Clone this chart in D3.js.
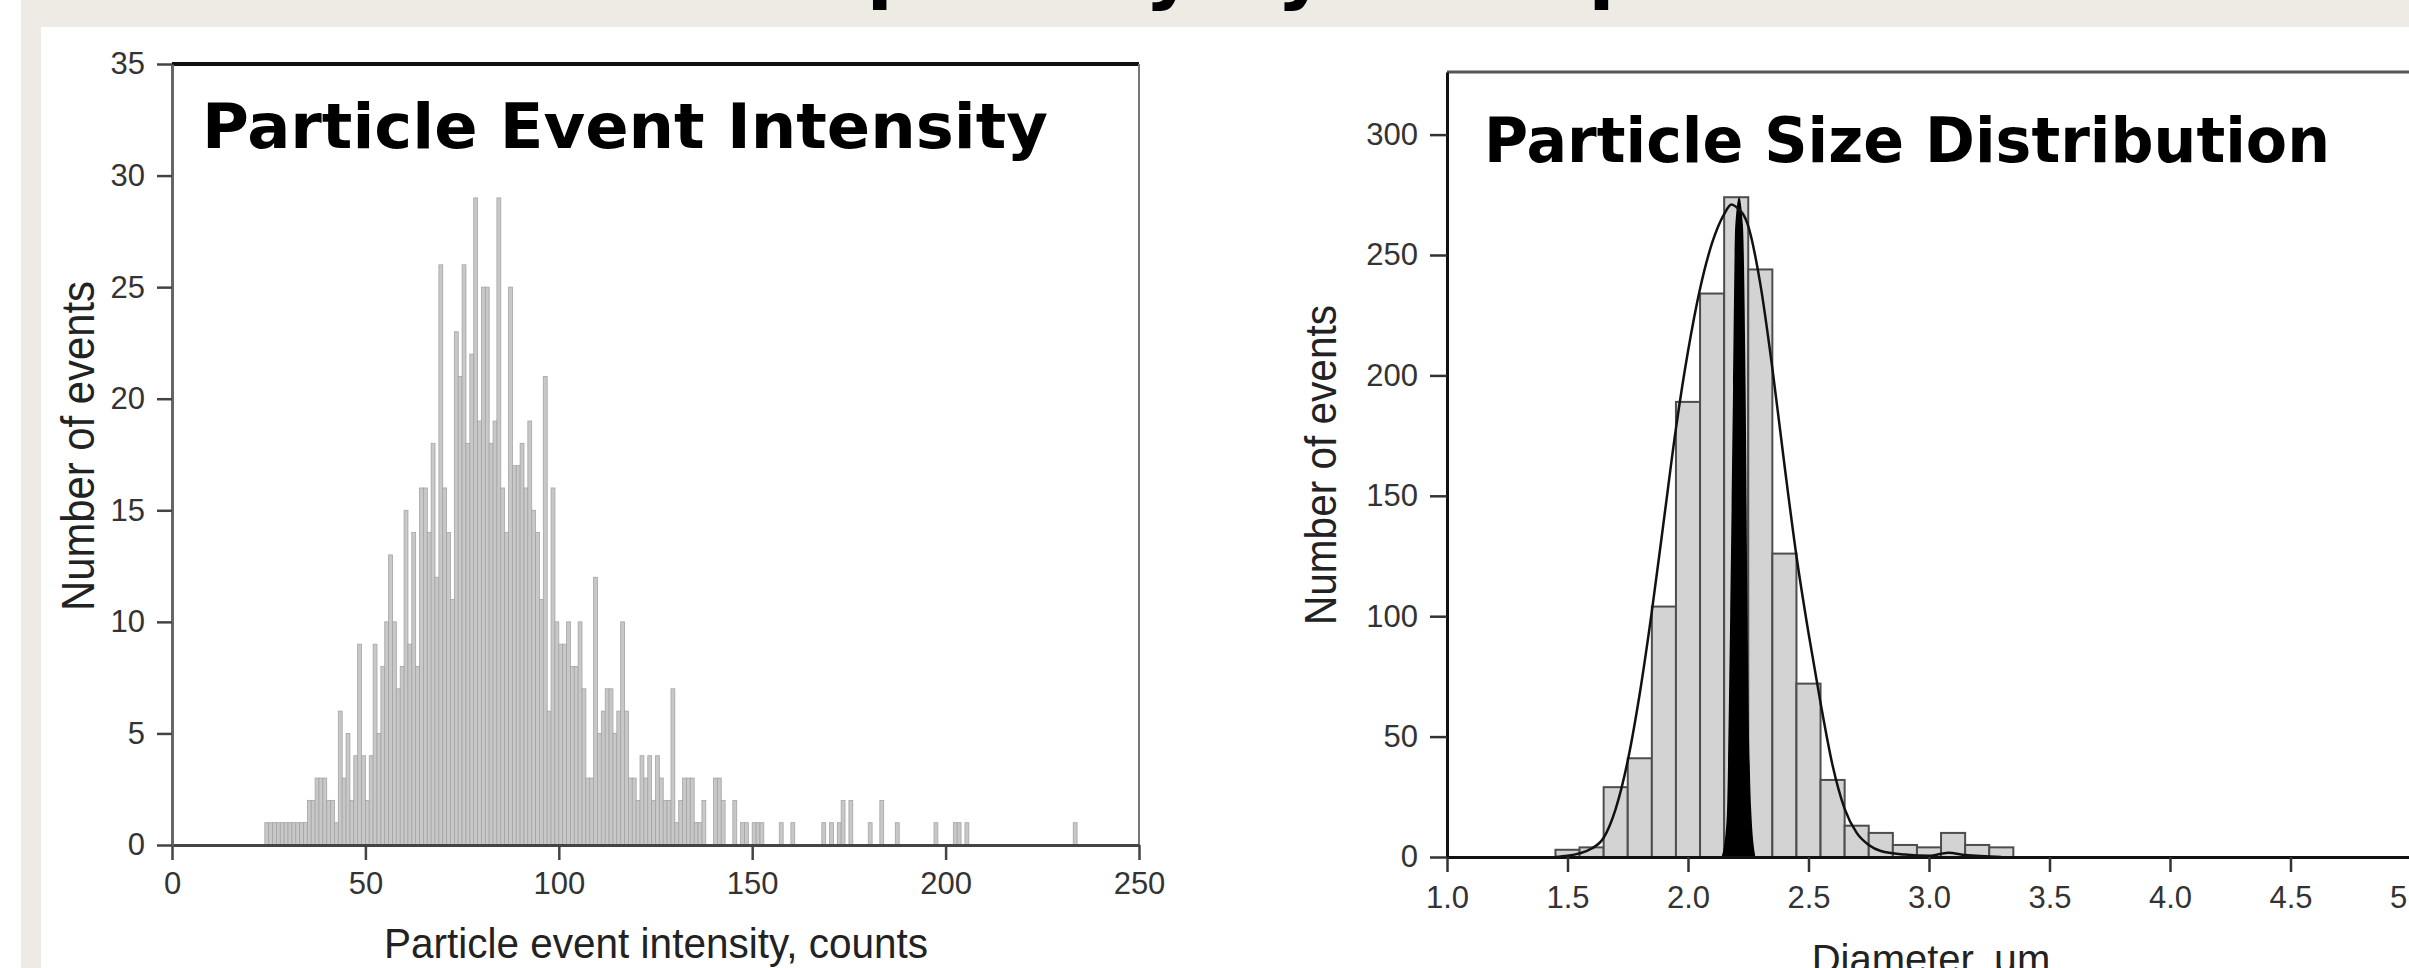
<!DOCTYPE html>
<html>
<head>
<meta charset="utf-8">
<script src="https://cdn.jsdelivr.net/npm/d3@7"></script>
<style>
  body { margin: 0; background: #fff; }
  svg { display: block; }
</style>
</head>
<body>
<script>
// slide title (only the bottom of it is on screen)
const slideTitle = "Capability by Example"

// left panel: particle event intensity histogram, 1-count bins
const intensityBins = [24, 25, 26, 27, 28, 29, 30, 31, 32, 33, 34, 35, 36, 37, 38, 39, 40, 41, 42, 43, 44, 45, 46, 47, 48, 49,
  50, 51, 52, 53, 54, 55, 56, 57, 58, 59, 60, 61, 62, 63, 64, 65, 66, 67, 68, 69, 70, 71, 72, 73, 74, 75, 76, 77, 78, 79,
  80, 81, 82, 83, 84, 85, 86, 87, 88, 89, 90, 91, 92, 93, 94, 95, 96, 97, 98, 99, 100, 101, 102, 103, 104, 105, 106, 107, 108, 109,
  110, 111, 112, 113, 114, 115, 116, 117, 118, 119, 120, 121, 122, 123, 124, 125, 126, 127, 128, 129, 130, 131, 132, 133, 134, 135,
  136, 137, 140, 141, 142, 145, 147, 148, 150, 151, 152, 157, 160, 168, 170, 172, 173, 175, 180, 183, 187, 197, 202, 203, 205, 233]
const intensityCounts = [1, 1, 1, 1, 1, 1, 1, 1, 1, 1, 1, 2, 2, 3, 3, 3, 2, 2, 1, 6, 3, 5, 2, 4, 9, 4,
  2, 4, 9, 5, 8, 10, 13, 10, 7, 8, 15, 9, 14, 8, 16, 16, 14, 18, 12, 26, 16, 14, 11, 23, 21, 26, 18, 22, 29, 19,
  25, 25, 18, 19, 29, 16, 14, 25, 17, 17, 18, 16, 19, 15, 14, 11, 21, 6, 16, 10, 9, 9, 10, 8, 8, 10, 7, 3, 3, 12,
  5, 6, 7, 7, 5, 6, 10, 6, 3, 3, 2, 4, 3, 4, 2, 4, 3, 2, 2, 7, 1, 2, 3, 3, 3, 1,
  1, 2, 3, 3, 2, 2, 1, 1, 1, 1, 1, 1, 1, 1, 1, 1, 2, 2, 1, 2, 1, 1, 1, 1, 1, 1]
const intensityTicksX = [0, 50, 100, 150, 200, 250]
const intensityTicksY = [0, 5, 10, 15, 20, 25, 30, 35]

// right panel: particle size distribution, 0.1 um bins
const sizeBins = [1.45, 1.55, 1.65, 1.75, 1.85, 1.95, 2.05, 2.15, 2.25, 2.35, 2.45, 2.55, 2.65, 2.75, 2.85, 2.95, 3.05, 3.15, 3.25]
const sizeCounts = [3, 4, 29, 41, 104, 189, 234, 274, 244, 126, 72, 32, 13, 10, 5, 4, 10, 5, 4]
// fitted curve
const fitD = [1.45, 1.5, 1.55, 1.6, 1.65, 1.7, 1.75, 1.8, 1.85, 1.9, 1.95, 2.0, 2.05, 2.1, 2.15, 2.18, 2.2, 2.25, 2.3, 2.35,
  2.4, 2.45, 2.5, 2.55, 2.6, 2.65, 2.7, 2.75, 2.8, 2.9, 3.0, 3.08, 3.15, 3.3]
const fitN = [0, 0.5, 1.5, 3.5, 8, 20, 40, 68, 102, 140, 178, 210, 236, 255, 267, 271, 270, 262, 238, 203,
  163, 125, 93, 64, 38, 20, 10, 5, 2.5, 1, 0.5, 1.8, 0.8, 0]
// narrow black reference peak
const peakD = [2.14, 2.16, 2.175, 2.187, 2.196, 2.212, 2.228, 2.239, 2.247, 2.262, 2.28]
const peakN = [0, 15, 100, 195, 262, 274, 262, 195, 100, 20, 0]
const sizeTicksX = [1.0, 1.5, 2.0, 2.5, 3.0, 3.5, 4.0, 4.5, 5.0]
const sizeTicksY = [0, 50, 100, 150, 200, 250, 300]

const W = 2409, H = 968
const labelFont = "'Liberation Sans', Arial, sans-serif"
const titleFont = "'DejaVu Sans', Verdana, sans-serif"

let svg = d3.select("body").append("svg")
  .attr("width", W)
  .attr("height", H)

// slide background
svg.append("rect").attr("x", 21).attr("y", 0).attr("width", W - 21).attr("height", H).attr("fill", "#eeebe4")
svg.append("text")
  .attr("x", 758).attr("y", -6)
  .attr("font-family", titleFont).attr("font-weight", "bold").attr("font-size", 77)
  .attr("fill", "#000")
  .text(slideTitle)
svg.append("rect").attr("x", 41).attr("y", 27).attr("width", W - 41).attr("height", H - 27).attr("fill", "#fff")

// ---------- left chart ----------
let x1 = d3.scaleLinear().domain([0, 250]).range([172, 1139])
let y1 = d3.scaleLinear().domain([0, 35]).range([845, 64])
let left = svg.append("g")

left.selectAll("rect.bar")
  .data(intensityBins)
  .enter()
  .append("rect")
  .attr("class", "bar")
  .attr("x", d => x1(d))
  .attr("width", d => x1(d + 1) - x1(d))
  .attr("y", (d, i) => y1(intensityCounts[i]))
  .attr("height", (d, i) => y1(0) - y1(intensityCounts[i]))
  .attr("fill", "#c8c8c8")
  .attr("stroke", "#a4a4a4")
  .attr("stroke-width", 0.8)

// frame
left.append("line").attr("x1", x1(0)).attr("x2", x1(250)).attr("y1", y1(35)).attr("y2", y1(35))
  .attr("stroke", "#111").attr("stroke-width", 4)
left.append("line").attr("x1", x1(250)).attr("x2", x1(250)).attr("y1", y1(35)).attr("y2", y1(0))
  .attr("stroke", "#777").attr("stroke-width", 2)

let leftX = left.append("g")
  .attr("transform", `translate(0,${y1(0)})`)
  .call(d3.axisBottom(x1).tickValues(intensityTicksX).tickFormat(d3.format("d")).tickSize(15).tickPadding(12).tickSizeOuter(0))
let leftY = left.append("g")
  .attr("transform", `translate(${x1(0)},0)`)
  .call(d3.axisLeft(y1).tickValues(intensityTicksY).tickFormat(d3.format("d")).tickSize(15).tickPadding(12).tickSizeOuter(0))

leftX.select(".domain").attr("stroke", "#444").attr("stroke-width", 3)
leftY.select(".domain").attr("stroke", "#666").attr("stroke-width", 3)
left.selectAll(".tick line").attr("stroke", "#444").attr("stroke-width", 2.5)
left.selectAll(".tick text")
  .attr("font-family", labelFont).attr("font-size", 31).attr("fill", "#333")

left.append("text")
  .attr("x", 656).attr("y", 958)
  .attr("text-anchor", "middle")
  .attr("font-family", labelFont).attr("font-size", 43).attr("fill", "#222")
  .attr("textLength", 544).attr("lengthAdjust", "spacingAndGlyphs")
  .text("Particle event intensity, counts")
left.append("text")
  .attr("transform", "translate(94,446) rotate(-90)")
  .attr("text-anchor", "middle")
  .attr("font-family", labelFont).attr("font-size", 46).attr("fill", "#222")
  .attr("textLength", 330).attr("lengthAdjust", "spacingAndGlyphs")
  .text("Number of events")
left.append("text")
  .attr("x", 202).attr("y", 148)
  .attr("font-family", titleFont).attr("font-weight", "bold").attr("font-size", 63)
  .attr("fill", "#000")
  .attr("textLength", 846).attr("lengthAdjust", "spacingAndGlyphs")
  .text("Particle Event Intensity")

// ---------- right chart ----------
let x2 = d3.scaleLinear().domain([1, 5]).range([1447, 2411])
let y2 = d3.scaleLinear().domain([0, 326]).range([857, 72])
let right = svg.append("g")

right.selectAll("rect.bar")
  .data(sizeBins)
  .enter()
  .append("rect")
  .attr("class", "bar")
  .attr("x", d => x2(d))
  .attr("width", d => x2(d + 0.1) - x2(d))
  .attr("y", (d, i) => y2(sizeCounts[i]))
  .attr("height", (d, i) => y2(0) - y2(sizeCounts[i]))
  .attr("fill", "#d3d3d3")
  .attr("stroke", "#4d4d4d")
  .attr("stroke-width", 2)

let peakArea = d3.area()
  .x((d, i) => x2(d))
  .y0(y2(0))
  .y1((d, i) => y2(peakN[i]))
  .curve(d3.curveMonotoneX)
right.append("path").datum(peakD).attr("d", peakArea).attr("fill", "#000")

let fitLine = d3.line()
  .x((d, i) => x2(d))
  .y((d, i) => y2(fitN[i]))
  .curve(d3.curveMonotoneX)
right.append("path").datum(fitD).attr("d", fitLine)
  .attr("fill", "none").attr("stroke", "#111").attr("stroke-width", 2.5)

right.append("line").attr("x1", x2(1)).attr("x2", W).attr("y1", y2(326)).attr("y2", y2(326))
  .attr("stroke", "#555").attr("stroke-width", 3)

let rightX = right.append("g")
  .attr("transform", `translate(0,${y2(0)})`)
  .call(d3.axisBottom(x2).tickValues(sizeTicksX).tickFormat(d3.format(".1f")).tickSize(15).tickPadding(14).tickSizeOuter(0))
let rightY = right.append("g")
  .attr("transform", `translate(${x2(1)},0)`)
  .call(d3.axisLeft(y2).tickValues(sizeTicksY).tickFormat(d3.format("d")).tickSize(17).tickPadding(12).tickSizeOuter(0))

rightX.select(".domain").attr("stroke", "#111").attr("stroke-width", 3)
rightY.select(".domain").attr("stroke", "#111").attr("stroke-width", 3)
right.selectAll(".tick line").attr("stroke", "#333").attr("stroke-width", 2.5)
right.selectAll(".tick text")
  .attr("font-family", labelFont).attr("font-size", 31).attr("fill", "#333")

right.append("text")
  .attr("x", 1931).attr("y", 973)
  .attr("text-anchor", "middle")
  .attr("font-family", labelFont).attr("font-size", 40).attr("fill", "#222")
  .text("Diameter, μm")
right.append("text")
  .attr("transform", "translate(1336,465) rotate(-90)")
  .attr("text-anchor", "middle")
  .attr("font-family", labelFont).attr("font-size", 44).attr("fill", "#222")
  .attr("textLength", 320).attr("lengthAdjust", "spacingAndGlyphs")
  .text("Number of events")
right.append("text")
  .attr("x", 1484).attr("y", 162)
  .attr("font-family", titleFont).attr("font-weight", "bold").attr("font-size", 63)
  .attr("fill", "#000")
  .attr("textLength", 846).attr("lengthAdjust", "spacingAndGlyphs")
  .text("Particle Size Distribution")
</script>
</body>
</html>
